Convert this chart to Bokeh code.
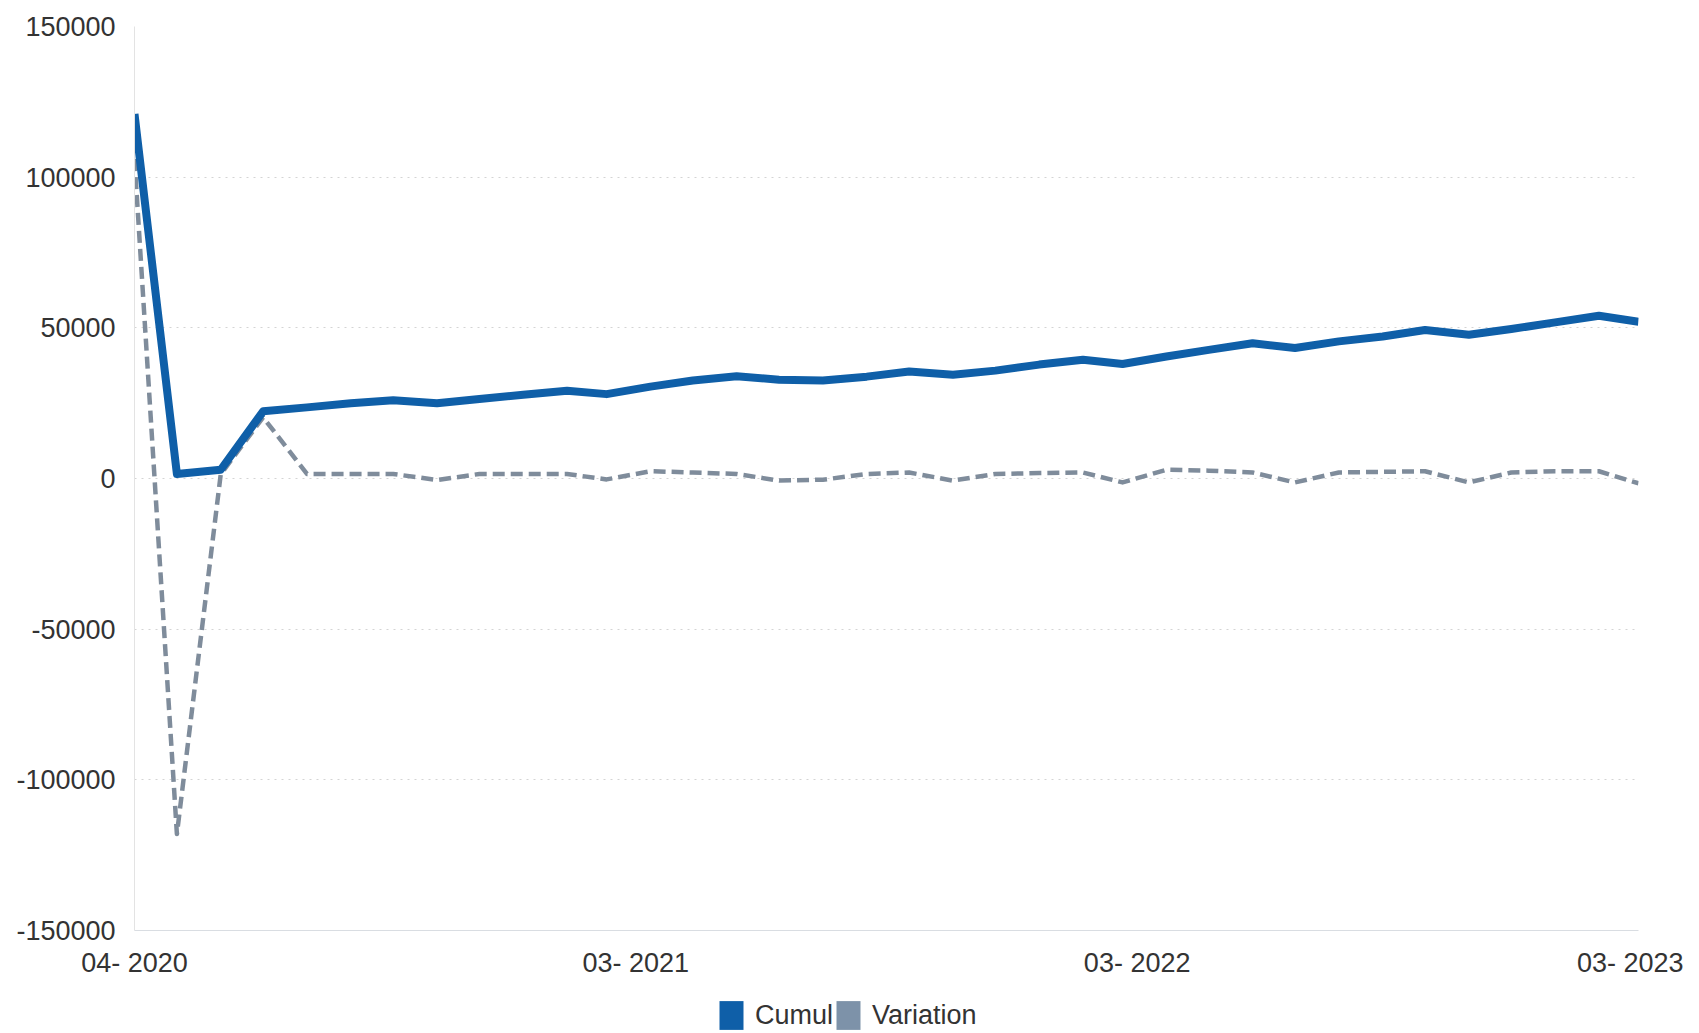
import pandas as pd
from bokeh.plotting import figure
from bokeh.layouts import column
from bokeh.models import (Range1d, FixedTicker, DatetimeTickFormatter, Legend,
                          LegendItem, ColumnDataSource, NumeralTickFormatter)
from bokeh.embed import file_html
from bokeh.resources import INLINE

# ---- data ----
months = pd.date_range("2020-04-01", "2023-03-01", freq="MS")
cumul = [121000, 1500, 2900, 22300, 23600, 25000, 26000, 25000, 26400, 27800,
         29100, 28000, 30500, 32500, 33900, 32800, 32500, 33800, 35500, 34400,
         35800, 37800, 39400, 38000, 40500, 42700, 44900, 43300, 45500, 47100,
         49300, 47700, 49600, 51800, 54000, 52000]
variation = [106000, -118000, 1400, 20300, 1500, 1500, 1500, -500, 1500, 1500,
             1500, -300, 2400, 2000, 1500, -700, -400, 1500, 2000, -700,
             1500, 1800, 2000, -1300, 2900, 2600, 2000, -1300, 2000, 2200,
             2400, -1300, 2000, 2400, 2400, -1600]
series_names = ["Cumul", "Variation"]
y_ticks = [-150000, -100000, -50000, 0, 50000, 100000, 150000]

FONT = "Liberation Sans"
FS = "27px"
BLUE = "#0f5fa8"
GREY = "#7f8c9b"
GREY_SW = "#7d92a9"
NAN = float("nan")

src = ColumnDataSource(dict(x=months, cumul=cumul, variation=variation))

p = figure(width=1683, height=982, x_axis_type="datetime",
           output_backend="svg", toolbar_location=None,
           x_range=Range1d(months[0], months[-1]),
           y_range=Range1d(-150000, 150000))
p.min_border_left = 134
p.min_border_right = 45
p.min_border_top = 26
p.min_border_bottom = 52
p.outline_line_color = None
p.background_fill_color = "white"

# ticks: four evenly spaced positions across the time span
t0 = months[0].value / 1e6
t1 = months[-1].value / 1e6
p.xaxis.ticker = FixedTicker(ticks=[t0 + k * (t1 - t0) / 3 for k in range(4)])
fmt = "%m- %Y"
p.xaxis.formatter = DatetimeTickFormatter(days=fmt, months=fmt, years=fmt,
                                          hours=fmt, hourmin=fmt)
p.yaxis.ticker = FixedTicker(ticks=y_ticks)
p.yaxis.formatter = NumeralTickFormatter(format="0")

for ax in (p.xaxis, p.yaxis):
    ax.major_tick_line_color = None
    ax.minor_tick_line_color = None
    ax.major_tick_out = 0
    ax.major_tick_in = 0
    ax.major_label_text_font = FONT
    ax.major_label_text_font_size = FS
    ax.major_label_text_color = "#333333"
    ax.major_label_text_font_style = "normal"
p.xaxis.axis_line_color = "#d9dde2"
p.yaxis.axis_line_color = "#e3e3e3"
p.yaxis.major_label_standoff = 19
p.xaxis.major_label_standoff = 17

p.xgrid.visible = False
p.ygrid.grid_line_color = "#d4d4d4"
p.ygrid.grid_line_dash = "2 5"
p.ygrid.grid_line_width = 1

p.line("x", "variation", source=src, line_color=GREY, line_width=4.5,
       line_dash="12 6", line_join="round")
p.line("x", "cumul", source=src, line_color=BLUE, line_width=8,
       line_join="round")

# ---- legend strip below the chart ----
lf = figure(width=1683, height=51, output_backend="svg", toolbar_location=None,
            x_range=Range1d(0, 1), y_range=Range1d(0, 1),
            x_axis_location=None, y_axis_location=None)
lf.min_border_left = 134
lf.min_border_right = 45
lf.min_border_top = 0
lf.min_border_bottom = 0
lf.outline_line_color = None
lf.xgrid.visible = False
lf.ygrid.visible = False

# swatch proxies (NaN geometry: nothing drawn in the strip itself)
r_c = lf.quad(left=[NAN], right=[NAN], top=[NAN], bottom=[NAN],
              fill_color=BLUE, line_color=None)
r_v = lf.quad(left=[NAN], right=[NAN], top=[NAN], bottom=[NAN],
              fill_color=GREY_SW, line_color=None)
legend = Legend(items=[LegendItem(label=series_names[0], renderers=[r_c]),
                       LegendItem(label=series_names[1], renderers=[r_v])],
                orientation="horizontal", location=(582, 0))
legend.glyph_width = 30
legend.glyph_height = 36
legend.label_standoff = 9
legend.spacing = 0
legend.padding = 0
legend.margin = 0
legend.border_line_color = None
legend.background_fill_alpha = 0
legend.label_text_font = FONT
legend.label_text_font_size = FS
legend.label_text_color = "#333333"
lf.add_layout(legend, "center")

layout = column(p, lf, spacing=0)
open("out.html", "w").write(file_html(layout, INLINE))
